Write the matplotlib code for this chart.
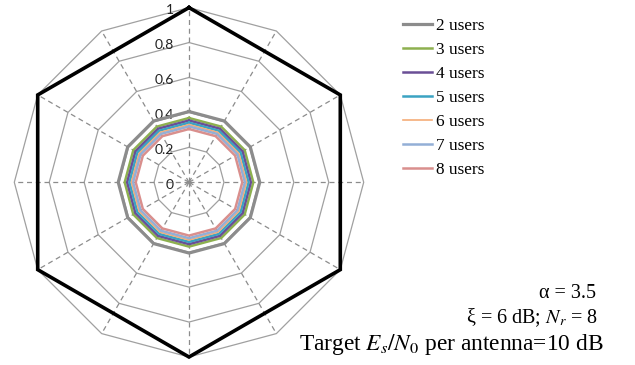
import numpy as np
import matplotlib
matplotlib.use("Agg")
import matplotlib.pyplot as plt

# ============================
#  Data (12 radar axes, clockwise from top)
# ============================
n_axes = 12
series_labels = ["2 users", "3 users", "4 users", "5 users", "6 users", "7 users", "8 users"]
series_values = [
    [0.405] * 12,
    [0.368] * 12,
    [0.354] * 12,
    [0.341] * 12,
    [0.330] * 12,
    [0.320] * 12,
    [0.305] * 12,
]
series_colors = ["#8c8c8c", "#8db04f", "#6a4f96", "#3ba3c2", "#f5ad78", "#93afd6", "#d98f8d"]
series_widths = [2.3, 1.8, 1.8, 1.8, 1.2, 1.8, 1.8]

# reference hexagon (not in legend)
hex_values = [1.0, 0.866, 1.0, 0.866, 1.0, 0.866, 1.0, 0.866, 1.0, 0.866, 1.0, 0.866]

grid_levels = [0.2, 0.4, 0.6, 0.8, 1.0]
tick_labels = ["0", "0.2", "0.4", "0.6", "0.8", "1"]
tick_values = [0.0, 0.2, 0.4, 0.6, 0.8, 1.0]

# angles: start at top, go clockwise
angles = np.pi / 2 - np.arange(n_axes) * 2 * np.pi / n_axes


def to_xy(vals):
    v = np.append(vals, vals[0])
    a = np.append(angles, angles[0])
    return v * np.cos(a), v * np.sin(a)


# ============================
#  Figure
# ============================
W, H = 635, 365
fig = plt.figure(figsize=(W / 100, H / 100), dpi=100)
plt.rcParams["mathtext.fontset"] = "stix"

R = 174.7          # pixels per unit radius
cx, cy = 189, 365 - 182.3
half = 1.1 * R
ax = fig.add_axes([(cx - half) / W, (cy - half) / H, 2 * half / W, 2 * half / H])
ax.set_xlim(-1.1, 1.1)
ax.set_ylim(-1.1, 1.1)
ax.set_aspect("equal")
ax.axis("off")

# grid polygons
for lev in grid_levels:
    gx, gy = to_xy([lev] * n_axes)
    ax.plot(gx, gy, color="#a0a0a0", lw=0.9, zorder=1)

# dashed spokes
for a in angles:
    ax.plot([0, np.cos(a)], [0, np.sin(a)], color="#8c8c8c", lw=0.9,
            dashes=(4, 3), zorder=1)

# tick labels along top spoke
for t, lab in zip(tick_values, tick_labels):
    ax.text(-0.088, t - 0.014, lab, ha="right", va="center",
            fontsize=10, family="Lato", color="#222222", zorder=2)

# reference hexagon
hx, hy = to_xy(hex_values)
ax.plot(hx, hy, color="black", lw=2.6, zorder=3, solid_joinstyle="miter")

# data series
handles = []
for vals, lab, col, lw in zip(series_values, series_labels, series_colors, series_widths):
    sx, sy = to_xy(vals)
    h, = ax.plot(sx, sy, color=col, lw=lw, label=lab, zorder=4)
    handles.append(h)

leg = fig.legend(handles=handles, loc="upper left",
                 bbox_to_anchor=(403 / W, 1 - 18 / H),
                 frameon=False, borderpad=0, borderaxespad=0,
                 handlelength=1.7, handletextpad=0.2, labelspacing=0.46,
                 prop={"family": "Liberation Serif", "size": 12.4})

# annotations
fig.text(596 / W, 1 - 298 / H, "α = 3.5", ha="right", va="baseline",
         family="Liberation Serif", fontsize=14.5)
fig.text(598 / W, 1 - 323 / H, r"ξ = 6 dB; $N_r$ = 8", ha="right", va="baseline",
         family="Liberation Serif", fontsize=14.5)
fig.text(604 / W, 1 - 350 / H, r"Target $E_s/N_{\mathit{0}}$ per antenna=10 dB",
         ha="right", va="baseline", family="Liberation Serif", fontsize=16.8)

fig.savefig("out.png", dpi=100)
